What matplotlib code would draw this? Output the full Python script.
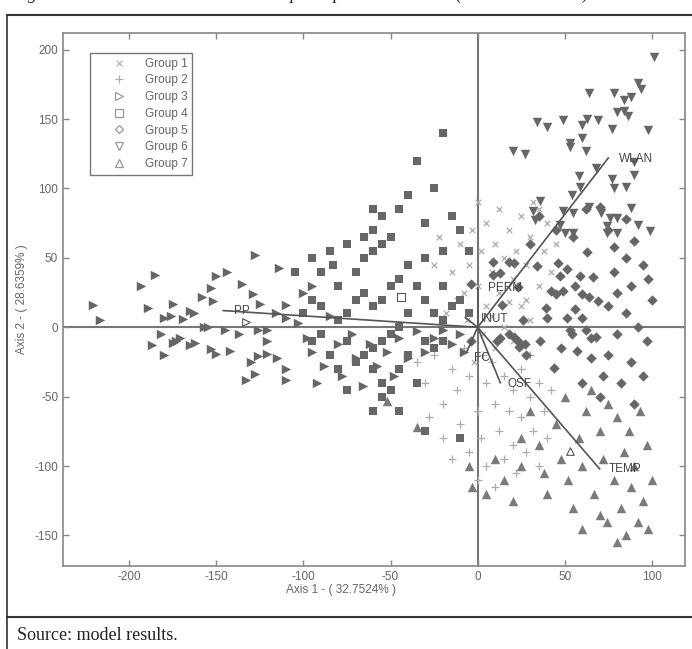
import numpy as np
import matplotlib.pyplot as plt
from matplotlib.lines import Line2D

plt.rcParams['font.family'] = ['Liberation Sans', 'DejaVu Sans']
plt.rcParams['axes.unicode_minus'] = False

# group point clouds (axis 1, axis 2)
g1 = [(-15,40),(-10,60),(-8,25),(-5,45),(-3,70),(0,30),(2,55),(5,75),(5,15),(8,40),(10,60),(12,85),
      (12,25),(15,50),(18,70),(20,35),(22,55),(25,80),(25,15),(28,45),(30,65),(32,90),(35,30),(38,55),
      (40,75),(42,40),(-18,10),(-12,20),(-6,5),(3,-5),(8,8),(15,0),(20,-10),(30,5),(-20,30),(-25,45),
      (-22,65),(0,90),(35,85),(45,60),(28,20),(10,-15),(-2,-25),(18,18)]
g2 = [(-25,-20),(-30,-40),(-20,-55),(-15,-30),(-10,-70),(-12,-45),(-5,-90),(-5,-35),(0,-60),(2,-80),
      (5,-40),(5,-100),(8,-25),(10,-55),(12,-75),(15,-95),(15,-35),(18,-60),(20,-45),(20,-85),(22,-105),
      (25,-65),(25,-30),(28,-90),(30,-50),(32,-75),(35,-40),(35,-100),(38,-60),(-35,-25),(-20,-80),
      (-8,-15),(0,-110),(10,-115),(40,-80),(-28,-65),(3,-20),(-15,-95),(30,-20),(42,-45)]
g3 = [(-221,16),(-217,5),(-193,30),(-185,38),(-189,14),(-175,17),(-180,7),(-176,8),(-169,6),(-165,12),
      (-163,10),(-182,-5),(-187,-13),(-180,-20),(-173,-10),(-171,-8),(-175,-11),(-165,-13),(-162,-11),
      (-158,22),(-153,28),(-150,37),(-144,40),(-152,19),(-157,0),(-155,0),(-145,-2),(-137,-5),(-153,-16),
      (-150,-19),(-142,-17),(-135,31),(-129,24),(-125,17),(-128,52),(-114,43),(-116,10),(-110,16),
      (-110,7),(-126,-2),(-121,-2),(-121,-10),(-130,-25),(-126,-21),(-121,-19),(-115,-22),(-133,-38),
      (-128,-34),(-110,-30),(-110,-38),(-103,3),(-98,-8),(-95,-18),(-92,-40),(-88,-28),(-85,8),
      (-80,-12),(-78,-35),(-72,-5),(-70,-22),(-66,-42),(-62,-12),(-58,-28),(-52,-18),(-48,-35),
      (-45,-8),(-40,-22),(-35,-3),(-30,-18),(-25,-8),(-20,-2),(-15,-12),(-10,-5),(-8,-18),(-100,25),(-95,30)]
g4 = [(-80,30),(-83,45),(-70,40),(-65,50),(-60,55),(-55,60),(-50,65),(-45,85),(-40,95),(-20,140),
      (-35,120),(-25,100),(-55,80),(-60,85),(-30,75),(-15,80),(-10,70),(-5,55),(-20,55),(-30,50),
      (-40,45),(-45,35),(-50,30),(-55,20),(-60,15),(-65,25),(-70,20),(-75,10),(-80,5),(-90,15),
      (-95,20),(-100,10),(-105,40),(-90,40),(-85,55),(-75,60),(-95,50),(-60,70),(-65,65),(-35,30),
      (-30,20),(-25,10),(-20,30),(-15,15),(-10,20),(-5,10),(-20,5),(-40,10),(-45,0),(-50,-5),
      (-55,-10),(-60,-15),(-65,-20),(-70,-25),(-75,-10),(-60,-30),(-55,-40),(-50,-45),(-45,-30),
      (-40,-20),(-30,-10),(-25,-15),(-20,-10),(-35,-40),(-45,-60),(-60,-60),(-55,-50),(-30,-75),
      (-10,-80),(-75,-45),(-80,-30),(-85,-20),(-90,-5),(-95,-10)]
g5 = [(63,54),(9,47),(18,47),(21,46),(34,44),(46,46),(47,37),(51,42),(59,37),(66,36),(-4,31),(9,38),
      (13,39),(23,29),(42,26),(45,24),(49,26),(56,30),(60,24),(64,22),(69,19),(14,16),(39,14),(40,7),
      (51,7),(56,13),(60,7),(26,5),(53,-2),(54,-5),(62,-2),(65,-8),(68,-7),(11,-10),(13,-8),(18,-5),
      (21,-7),(23,-10),(27,-12),(24,-14),(28,-20),(36,-10),(48,-15),(57,-17),(65,-22),(44,-29),(-4,-10),
      (70,87),(75,70),(78,58),(85,50),(90,62),(95,45),(98,35),(88,30),(80,25),(75,15),(85,10),(92,0),
      (97,-10),(80,-5),(75,-20),(88,-25),(95,-35),(82,-40),(72,-35),(90,-55),(60,-40),(70,-50),
      (100,20),(78,40),(85,78),(55,65),(45,70),(35,80),(62,85),(30,60)]
g6 = [(101,195),(92,176),(94,172),(64,169),(78,169),(84,164),(88,166),(80,155),(84,156),(86,152),
      (34,148),(40,144),(49,149),(60,146),(63,150),(69,149),(77,143),(98,142),(53,133),(53,130),
      (60,136),(62,127),(68,115),(90,119),(90,110),(58,109),(77,107),(78,100),(85,101),(59,101),
      (54,95),(64,87),(71,82),(76,79),(80,79),(88,86),(49,84),(55,82),(74,73),(92,74),(99,69),
      (32,84),(33,77),(47,74),(50,68),(55,68),(74,68),(80,68),(20,127),(27,125),(36,91)]
g7 = [(-52,-53),(-35,-72),(-5,-100),(-3,-115),(5,-120),(10,-95),(15,-110),(20,-125),(25,-100),
      (25,-80),(30,-60),(35,-85),(38,-105),(40,-120),(45,-70),(48,-95),(50,-50),(52,-110),(55,-130),
      (58,-80),(60,-100),(62,-60),(65,-45),(67,-120),(70,-75),(72,-95),(74,-140),(75,-55),(78,-110),
      (80,-65),(82,-130),(84,-90),(85,-150),(87,-75),(88,-115),(90,-100),(92,-140),(93,-60),(95,-125),
      (97,-85),(98,-145),(100,-110),(80,-155),(70,-135),(60,-145)]

# group centroids (hollow markers)
centroids = {'>': (-133, 4), 's': (-44, 22), '^': (53, -89)}

# variable vectors
var_names = ['PP', 'WLAN', 'TEMP', 'OSF', 'FC', 'PERM', 'INUT']
var_x = [-146, 75, 70, 13, -6, 0, -7]
var_y = [12, 122, -102, -40, -17, 28, 7]
lab_x = [-140, 81, 75, 17, -2, 6, 2]
lab_y = [12, 121, -102, -41, -22, 28, 6]

fig = plt.figure(figsize=(6.92, 6.49), dpi=100)

# page frame + caption fragments
fig.add_artist(Line2D([7/692, 1], [1 - 15/649, 1 - 15/649], color='#333333', lw=1.5))
fig.add_artist(Line2D([7/692, 1], [1 - 617/649, 1 - 617/649], color='#333333', lw=1.5))
fig.add_artist(Line2D([7/692, 7/692], [0, 1 - 15/649], color='#333333', lw=1.2))
fig.text(12/692, 1 + 1/649, 'Figure 3. Classes and variables in the principal axes 1 and 2 (canonical scores)',
         family='Liberation Serif', style='italic', fontsize=13, va='baseline', ha='left', color='#222222')
fig.text(17/692, 1 - 640/649, 'Source: model results.', family='Liberation Serif', fontsize=13,
         va='baseline', ha='left', color='#222222')

ax = fig.add_axes([63/692, 1 - 566/649, 622/692, 533/649])

dark = '#666666'
light = '#adadad'
def xy(pts):
    a = np.array(pts, dtype=float)
    return a[:, 0], a[:, 1]

ax.axhline(0, color='#777777', lw=1.5, zorder=1)
ax.axvline(0, color='#777777', lw=1.5, zorder=1)

x, y = xy(g1); ax.scatter(x, y, marker='x', s=16, c=light, lw=0.9, zorder=2)
x, y = xy(g2); ax.scatter(x, y, marker='+', s=32, c=light, lw=0.9, zorder=2)
x, y = xy(g3); ax.scatter(x, y, marker='>', s=46, c=dark, lw=0, zorder=3)
x, y = xy(g4); ax.scatter(x, y, marker='s', s=38, c=dark, lw=0, zorder=3)
x, y = xy(g5); ax.scatter(x, y, marker='D', s=28, c=dark, lw=0, zorder=3)
x, y = xy(g6); ax.scatter(x, y, marker='v', s=46, c=dark, lw=0, zorder=3)
x, y = xy(g7); ax.scatter(x, y, marker='^', s=46, c='#7a7a7a', lw=0, zorder=3)
for m, (cx, cy) in centroids.items():
    ax.scatter([cx], [cy], marker=m, s=30, facecolors='white', edgecolors='#555555', lw=0.8, zorder=4)

for n, vx, vy, lx, ly in zip(var_names, var_x, var_y, lab_x, lab_y):
    ax.plot([0, vx], [0, vy], color='#555555', lw=1.2, zorder=5)
    ax.text(lx, ly, n, color='#444444', fontsize=8.5, ha='left', va='center', zorder=6)

ax.set_xlim(-238, 119)
ax.set_ylim(-172, 212)
ax.set_xticks([-200, -150, -100, -50, 0, 50, 100])
ax.set_yticks([-150, -100, -50, 0, 50, 100, 150, 200])
ax.tick_params(direction='in', length=4, colors='#888888', labelcolor='#666666', labelsize=8.5,
               top=True, right=True, width=1)
for s in ax.spines.values():
    s.set_color('#888888')
    s.set_linewidth(1.2)

ax.set_xlabel('Axis 1 - ( 32.7524% )', fontsize=8.5, color='#666666')
ax.xaxis.set_label_coords((341 - 63) / 622, -0.034)
ax.set_ylabel('Axis 2 - ( 28.6359% )', fontsize=8.5, color='#666666')
ax.yaxis.set_label_coords((28 - 63) / 622, 0.5)

handles = [
    Line2D([], [], ls='', marker='x', ms=4, mec=light, mfc='none', mew=0.8, label='Group 1'),
    Line2D([], [], ls='', marker='+', ms=6, mec=light, mfc='none', mew=0.8, label='Group 2'),
    Line2D([], [], ls='', marker='>', ms=6, mec='#999999', mfc='none', mew=0.9, label='Group 3'),
    Line2D([], [], ls='', marker='s', ms=5.5, mec='#999999', mfc='none', mew=0.9, label='Group 4'),
    Line2D([], [], ls='', marker='D', ms=4.5, mec='#999999', mfc='none', mew=0.9, label='Group 5'),
    Line2D([], [], ls='', marker='v', ms=6, mec='#999999', mfc='none', mew=0.9, label='Group 6'),
    Line2D([], [], ls='', marker='^', ms=6, mec='#999999', mfc='none', mew=0.9, label='Group 7'),
]
leg = ax.legend(handles=handles, loc='upper left', bbox_to_anchor=((90 - 63) / 622, 1 - (53 - 33) / 533),
                fontsize=8.5, frameon=True, fancybox=False, borderaxespad=0, handletextpad=0.15,
                labelspacing=0.4, borderpad=0.4, handlelength=4.1, labelcolor='#666666')
leg.get_frame().set_edgecolor('#555555')
leg.get_frame().set_linewidth(1.0)

fig.savefig('out.png', dpi=100)
